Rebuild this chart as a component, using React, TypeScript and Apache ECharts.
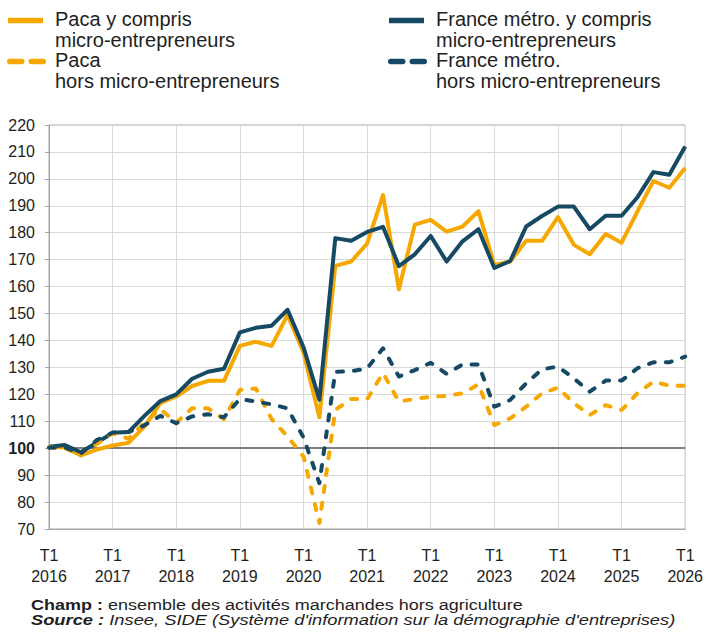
import React, { useEffect, useRef } from "react";
import * as echarts from "echarts";

const years = [2016, 2017, 2018, 2019, 2020, 2021, 2022, 2023, 2024, 2025, 2026];
const quarterNames = ["T1", "T2", "T3", "T4"];
const categories = years.flatMap((y) => quarterNames.map((q) => `${q} ${y}`)).slice(0, 41);

const yTicks = { min: 70, max: 220, step: 10 };

const pacaTotal = [
  100.5, 100.3, 97.3, 99.5, 101, 102, 108, 116.7, 119.2, 123.1, 125, 125,
  138, 139.5, 138, 149.5, 135.5, 111.5, 167.7, 169.3, 176, 194, 159, 183,
  184.8, 180.4, 182.3, 188, 168, 169.3, 177, 177, 185.8, 175.5, 172, 179.5,
  176.3, 187.9, 199.2, 196.7, 204,
];
const franceTotal = [
  100.5, 101.2, 98.5, 102, 105.7, 106, 112, 117.5, 120, 125.8, 128.4, 129.5,
  143, 144.7, 145.5, 151.4, 137.5, 118, 178, 177, 180.3, 182.2, 167.6, 172,
  178.8, 169.3, 176.8, 181.3, 166.9, 169.5, 182.3, 186.2, 189.7, 189.7, 181.3, 186.3,
  186.3, 193.2, 202.5, 201.5, 212,
];
const pacaHors = [
  100.3, 100, 97.5, 101.5, 105.5, 103.5, 109.5, 114.5, 109.5, 114.8, 114.8, 110.8,
  121.6, 122.2, 110.8, 104.3, 96.9, 72.2, 114.2, 118.3, 118.2, 127.9, 117.3, 118.3,
  119.1, 119.4, 120.4, 123.7, 108.6, 111.1, 115.4, 120.4, 122.5, 116.7, 112.3, 116,
  114.2, 120.4, 124.7, 123.2, 123.2,
];
const franceHors = [
  100.2, 100.3, 98, 103, 105.8, 106, 108.5, 112, 109.3, 111.8, 112.6, 111.5,
  118.3, 117.3, 116.3, 114.8, 104, 87, 128.4, 128.6, 129.6, 137.1, 126.6, 129,
  131.7, 127.6, 131.1, 131.1, 115.4, 117.9, 124.1, 129.3, 130.3, 125.9, 121, 125.1,
  125.1, 129.7, 131.9, 131.9, 134,
];

const legendLabels = [
  "Paca y compris\nmicro-entrepreneurs",
  "Paca\nhors micro-entrepreneurs",
  "France métro. y compris\nmicro-entrepreneurs",
  "France métro.\nhors micro-entrepreneurs",
];
const champText = "ensemble des activités marchandes hors agriculture";
const sourceText = "Insee, SIDE (Système d'information sur la démographie d'entreprises)";

const ORANGE = "#F6A800";
const NAVY = "#164A64";
const TEXT = "#1e1e1e";
const FONT = '"Liberation Sans", Arial, sans-serif';

function legendItem(x: number, y: number, color: string, dashed: boolean, label: string) {
  const ly = y + 12;
  return [
    {
      type: "line",
      shape: dashed
        ? { x1: x + 0.75, y1: ly, x2: x + 34.25, y2: ly }
        : { x1: x - 1, y1: ly, x2: x + 34, y2: ly },
      style: dashed
        ? { stroke: color, lineWidth: 5.5, lineDash: [12, 9.5], lineCap: "round" }
        : { stroke: color, lineWidth: 5.5 },
    },
    {
      type: "text",
      x: x + 46,
      y: y,
      style: {
        text: label,
        font: `20px ${FONT}`,
        fill: TEXT,
        lineHeight: 21,
        verticalAlign: "top",
        align: "left",
      },
    },
  ];
}

export default function App() {
  const ref = useRef<HTMLDivElement>(null);
  useEffect(() => {
    const chart = echarts.init(ref.current!, null, { renderer: "svg" });
    const lineSeries = (name: string, data: number[], color: string, dashed: boolean, extra: any = {}) => ({
      name,
      type: "line",
      data,
      symbol: "none",
      showSymbol: false,
      lineStyle: dashed
        ? { color, width: 4, type: [6, 11], cap: "round", join: "round" }
        : { color, width: 4, join: "round" },
      itemStyle: { color },
      emphasis: { disabled: true },
      ...extra,
    });
    chart.setOption({
      animation: false,
      backgroundColor: "#fff",
      textStyle: { fontFamily: FONT },
      grid: {
        left: 49,
        right: 19,
        top: 125,
        bottom: 105,
        show: true,
        borderColor: "#a6a6a6",
        borderWidth: 1,
        containLabel: false,
      },
      xAxis: {
        type: "category",
        data: categories,
        boundaryGap: false,
        axisLine: { lineStyle: { color: "#a6a6a6", width: 1 } },
        axisTick: { show: false },
        axisLabel: {
          interval: (i: number) => i % 4 === 0,
          formatter: (v: string) => (v.startsWith("T1") ? "T1\n" + v.split(" ")[1] : ""),
          fontSize: 16,
          lineHeight: 21,
          color: TEXT,
          margin: 16,
          fontFamily: FONT,
        },
        splitLine: {
          show: true,
          interval: (i: number) => i % 4 === 0,
          lineStyle: { color: "#d9d9d9", width: 1 },
        },
      },
      yAxis: {
        type: "value",
        min: yTicks.min,
        max: yTicks.max,
        interval: yTicks.step,
        axisLine: { show: true, lineStyle: { color: "#a6a6a6", width: 1 } },
        axisTick: { show: true, length: 4, lineStyle: { color: "#a6a6a6" } },
        axisLabel: {
          fontSize: 16,
          color: TEXT,
          margin: 14,
          fontFamily: FONT,
          formatter: (v: number) => (v === 100 ? "{b|100}" : String(v)),
          rich: { b: { fontWeight: "bold", fontSize: 16, color: TEXT, fontFamily: FONT } },
        },
        splitLine: { lineStyle: { color: "#d9d9d9", width: 1 } },
      },
      series: [
        lineSeries("Paca y compris micro-entrepreneurs", pacaTotal, ORANGE, false, {
          markLine: {
            silent: true,
            symbol: "none",
            label: { show: false },
            lineStyle: { color: "#7f7f7f", width: 2, type: "solid" },
            data: [{ yAxis: 100 }],
            z: 1,
          },
        }),
        lineSeries("France métro. y compris micro-entrepreneurs", franceTotal, NAVY, false),
        lineSeries("Paca hors micro-entrepreneurs", pacaHors, ORANGE, true),
        lineSeries("France métro. hors micro-entrepreneurs", franceHors, NAVY, true),
      ],
      graphic: [
        ...legendItem(9, 8.5, ORANGE, false, legendLabels[0]),
        ...legendItem(9, 49.5, ORANGE, true, legendLabels[1]),
        ...legendItem(390, 8.5, NAVY, false, legendLabels[2]),
        ...legendItem(390, 49.5, NAVY, true, legendLabels[3]),
        {
          type: "text",
          x: 31,
          y: 598,
          scaleX: 1.2,
          style: {
            text: `{b|Champ :} ${champText}`,
            font: `15px ${FONT}`,
            fill: TEXT,
            verticalAlign: "top",
            rich: { b: { fontWeight: "bold", fontSize: 15, fontFamily: FONT, fill: TEXT } },
          },
        },
        {
          type: "text",
          x: 31,
          y: 613,
          scaleX: 1.22,
          style: {
            text: `{b|Source :} ${sourceText}`,
            font: `italic 15px ${FONT}`,
            fill: TEXT,
            verticalAlign: "top",
            rich: { b: { fontWeight: "bold", fontStyle: "italic", fontSize: 15, fontFamily: FONT, fill: TEXT } },
          },
        },
      ],
    });
    return () => chart.dispose();
  }, []);
  return (
    <div
      ref={ref}
      style={{ position: "fixed", left: 0, top: 0, width: 706, height: 634, background: "#fff" }}
    />
  );
}
